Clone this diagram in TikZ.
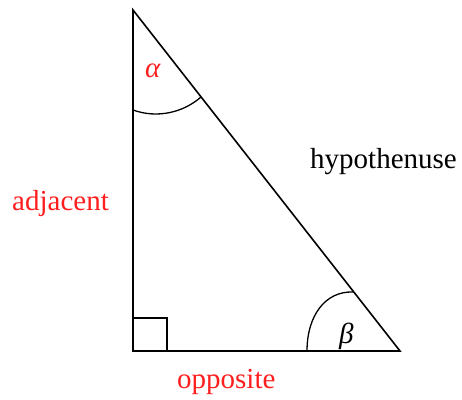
\documentclass[tikz,border=0pt]{standalone}
\usepackage{fontspec}
\setmainfont{Liberation Serif}
\definecolor{lblred}{RGB}{255,30,30}
\begin{document}
\begin{tikzpicture}[x=1pt,y=-1pt,
  edge/.style={line width=1.6pt},
  anglemark/.style={line width=1.3pt},
  lbl/.style={anchor=base west,inner sep=0pt,font=\fontsize{29}{32}\selectfont},
  glbl/.style={anchor=base west,inner sep=0pt,font=\fontsize{29}{32}\selectfont\itshape}]
\useasboundingbox (0,0) rectangle (462,399);
\coordinate (A) at (133,10);
\coordinate (B) at (133,351);
\coordinate (C) at (400,351);
\draw[edge] (A) -- (B) -- (C) -- cycle;
\coordinate (r1) at (133,318);
\coordinate (r2) at (167,318);
\coordinate (r3) at (167,351);
\draw[anglemark] (r1) -- (r2) -- (r3);
\coordinate (a1) at (133,110);
\coordinate (a2) at (201,97);
\draw[anglemark] (a1) .. controls (158,119) and (184,112) .. (a2);
\coordinate (b1) at (307,351);
\coordinate (b2) at (353,292);
\draw[anglemark] (b1) .. controls (307,316) and (325,291) .. (b2);
\node[glbl,text=lblred] (alpha) at (145,77) {α};
\node[glbl] (beta) at (339,343) {β};
\node[lbl] (hyp) at (310,168) {hypothenuse};
\node[lbl,text=lblred] (adj) at (12,210) {adjacent};
\node[lbl,text=lblred] (opp) at (177,388) {opposite};
\end{tikzpicture}
\end{document}
